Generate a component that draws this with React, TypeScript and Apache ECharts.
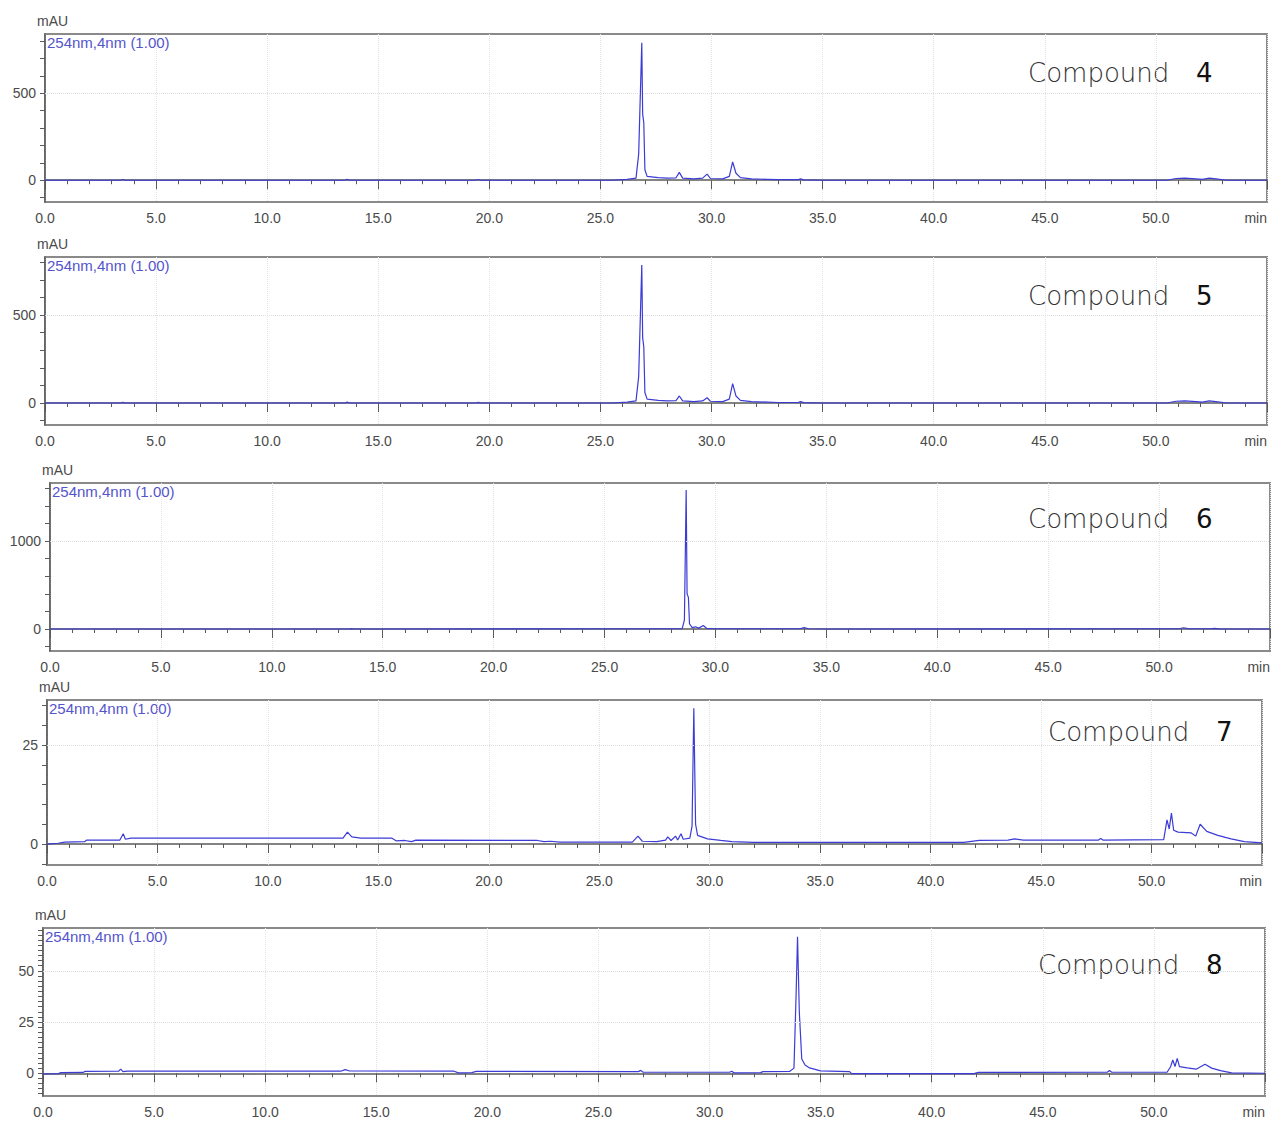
import React, { useEffect, useRef } from "react";
import * as echarts from "echarts";

// Retention time (min) / absorbance (mAU) pairs for each compound's trace
const compound4: [number, number][] = [
  [0, 0], [3.4, 0], [3.5, 4], [3.6, 0], [13.5, 0], [13.6, 5], [13.7, 0], [19.4, 0], [19.5, 4], [19.6, 0],
  [25.5, 0], [26.2, 5], [26.6, 12], [26.72, 150], [26.86, 790], [26.9, 380], [26.95, 330], [27.0, 60],
  [27.1, 22], [27.6, 15], [28.0, 12], [28.4, 14], [28.55, 45], [28.7, 12], [29.2, 8], [29.6, 12],
  [29.8, 35], [29.95, 10], [30.5, 8], [30.8, 22], [30.95, 105], [31.1, 40], [31.3, 15], [31.8, 8],
  [32.5, 5], [33.0, 3], [33.9, 3], [34.0, 8], [34.15, 2], [35, 0], [50.5, 0], [50.9, 10], [51.3, 12],
  [51.8, 8], [52.1, 5], [52.4, 12], [52.7, 8], [53.2, 0], [55, 0],
];
const compound5: [number, number][] = [
  [0, 0], [3.4, 0], [3.5, 4], [3.6, 0], [13.5, 0], [13.6, 5], [13.7, 0], [19.4, 0], [19.5, 4], [19.6, 0],
  [25.5, 0], [26.2, 5], [26.6, 12], [26.72, 150], [26.86, 784], [26.9, 370], [26.95, 320], [27.0, 60],
  [27.1, 22], [27.6, 15], [28.0, 12], [28.4, 14], [28.55, 40], [28.7, 12], [29.2, 8], [29.6, 12],
  [29.8, 30], [29.95, 10], [30.5, 8], [30.8, 22], [30.95, 110], [31.1, 40], [31.3, 15], [31.8, 8],
  [32.5, 5], [33.0, 3], [33.9, 3], [34.0, 8], [34.15, 2], [35, 0], [50.5, 0], [50.9, 10], [51.3, 12],
  [51.8, 8], [52.1, 5], [52.4, 12], [52.7, 8], [53.2, 0], [55, 0],
];
const compound6: [number, number][] = [
  [0, 0], [13.5, 0], [13.6, 4], [13.7, 0], [28.5, 5], [28.6, 100], [28.68, 1580], [28.72, 400],
  [28.78, 360], [28.83, 60], [28.95, 15], [29.1, 25], [29.25, 10], [29.45, 40], [29.6, 8], [30.0, 3],
  [33.8, 3], [34.0, 15], [34.2, 3], [35, 0], [50.9, 3], [51.1, 14], [51.3, 4], [52.3, 3], [52.5, 8],
  [52.7, 2], [53.2, 0], [55, 0],
];
const compound7: [number, number][] = [
  [0, 0], [0.5, 0.2], [0.8, 0.5], [1.7, 0.6], [1.8, 1.0], [3.3, 1.0], [3.45, 2.6], [3.55, 1.2],
  [3.8, 1.5], [13.4, 1.5], [13.6, 3.0], [13.8, 1.8], [14.2, 1.5], [15.6, 1.5], [15.8, 0.8], [16.2, 0.9],
  [16.5, 0.6], [16.7, 1.0], [22.2, 0.9], [22.5, 0.6], [22.8, 0.7], [23.2, 0.5], [26.5, 0.5],
  [26.75, 2.0], [26.95, 0.7], [27.6, 0.6], [28.0, 1.0], [28.1, 1.8], [28.25, 0.9], [28.45, 2.0],
  [28.55, 1.0], [28.7, 2.6], [28.8, 1.2], [29.1, 1.5], [29.2, 4.5], [29.28, 34.3], [29.36, 5],
  [29.45, 2.2], [29.9, 1.3], [30.5, 0.9], [31, 0.6], [32, 0.4], [41.5, 0.4], [42.2, 0.9], [43.5, 1.0],
  [43.8, 1.3], [44.2, 1.0], [47.6, 1.0], [47.7, 1.4], [47.8, 1.0], [50.55, 1.1], [50.7, 6.1],
  [50.8, 3.8], [50.9, 7.8], [51.0, 3.5], [51.2, 3.0], [51.8, 2.8], [52.0, 2.0], [52.2, 5.0],
  [52.5, 3.2], [53.0, 2.2], [53.6, 1.3], [54.2, 0.6], [55, 0.3],
];
const compound8: [number, number][] = [
  [0, -0.3], [0.7, -0.2], [0.8, 0.3], [1.8, 0.4], [1.9, 0.9], [3.4, 1.0], [3.5, 2.0], [3.6, 0.8],
  [3.8, 1.0], [13.4, 1.0], [13.6, 1.8], [13.8, 1.1], [18.5, 1.0], [18.7, 0.2], [19.3, 0.3], [19.5, 0.9],
  [26.8, 0.8], [26.9, 1.4], [27.0, 0.6], [30.9, 0.5], [31.0, 1.0], [31.1, 0.2], [32.3, 0.3],
  [32.4, 0.8], [33.6, 0.9], [33.8, 2.5], [33.9, 40], [33.96, 66.6], [34.04, 30], [34.15, 7],
  [34.3, 4], [34.5, 2.6], [35.0, 1.2], [36.3, 0.8], [36.4, -0.2], [41.9, -0.2], [42.1, 0.4],
  [47.9, 0.5], [48.0, 1.3], [48.1, 0.5], [50.6, 0.6], [50.75, 3.2], [50.85, 6.5], [50.95, 3.3],
  [51.05, 7.3], [51.15, 3.2], [51.5, 2.6], [51.9, 2.0], [52.3, 4.4], [52.6, 2.5], [53.0, 1.3],
  [53.5, 0.2], [55, 0],
];

const traces = [compound4, compound5, compound6, compound7, compound8];
const compoundNumbers = ["4", "5", "6", "7", "8"];
const detectorLabel = "254nm,4nm (1.00)";
const timeUnit = "min";

// Time axis
const timeMin = 0;
const timeMax = 55;
const timeStep = 5;

// Absorbance axis extents, labelled values and tick spacing per panel
const yMins = [-125, -125, -250, -5.3, -11.1];
const yMaxs = [840, 830, 1660, 36.4, 70.9];
const yLabels = [[0, 500], [0, 500], [0, 1000], [0, 25], [0, 25, 50]];
const yTickSteps = [100, 100, 200, 5, 2.5];

// Panel placement in pixels
const panels = [
  { left: 45, top: 34, width: 1222, height: 168 },
  { left: 45, top: 257, width: 1222, height: 168 },
  { left: 50, top: 483, width: 1220, height: 168 },
  { left: 47, top: 700, width: 1215, height: 165 },
  { left: 43, top: 928, width: 1222, height: 168 },
];
const titleSpots = [
  [1028, 73], [1028, 296], [1028, 519], [1048, 732], [1038, 965],
];

const LINE = "#3b3bd6";
const AXIS = "#5a5a5a";
const LABEL = "#4a4a4a";
const FONT = "'Liberation Sans', Arial, sans-serif";

function tickValues(min: number, max: number, step: number): number[] {
  const out: number[] = [];
  const start = Math.ceil(min / step) * step;
  for (let v = start; v <= max + 1e-9; v += step) out.push(+v.toFixed(4));
  return out;
}

export default function App() {
  const ref = useRef<HTMLDivElement>(null);

  useEffect(() => {
    document.body.style.margin = "0";
    if (!ref.current) return;
    const chart = echarts.init(ref.current, null, { renderer: "svg" });

    const grid = panels.map((p) => ({
      left: p.left,
      top: p.top,
      width: p.width,
      height: p.height,
      show: true,
      borderColor: "#8a8a8a",
      borderWidth: 2,
      backgroundColor: "#fff",
    }));

    const xAxis = panels.map((_, i) => ({
      type: "value",
      gridIndex: i,
      min: timeMin,
      max: timeMax,
      interval: timeStep,
      axisLine: { show: true, lineStyle: { color: AXIS, width: 1.5 } },
      axisTick: { show: true, length: 9, lineStyle: { color: AXIS } },
      minorTick: { show: true, splitNumber: 5, length: 4, lineStyle: { color: AXIS } },
      splitLine: { show: true, lineStyle: { color: "#e2e2e2", type: "dotted" } },
      axisLabel: {
        margin: 9,
        color: LABEL,
        fontSize: 14,
        fontFamily: FONT,
        formatter: (v: number) => (v >= timeMax ? "" : v.toFixed(1)),
      },
    }));

    const yAxis = panels.map((_, i) => ({
      type: "value",
      gridIndex: i,
      min: yMins[i],
      max: yMaxs[i],
      name: "mAU",
      nameLocation: "end",
      nameGap: 6,
      nameTextStyle: {
        align: "left",
        padding: [0, 0, 0, -8],
        color: LABEL,
        fontSize: 14,
        fontFamily: FONT,
      },
      axisLine: { show: true, lineStyle: { color: AXIS, width: 1.5 } },
      axisTick: {
        show: true,
        length: 5,
        customValues: tickValues(yMins[i], yMaxs[i], yTickSteps[i]),
        lineStyle: { color: AXIS },
      },
      splitLine: { show: false },
      axisLabel: {
        margin: 9,
        color: LABEL,
        fontSize: 14,
        fontFamily: FONT,
        customValues: yLabels[i],
        formatter: (v: number) => String(v),
      },
    }));

    const series = traces.map((data, i) => ({
      type: "line",
      xAxisIndex: i,
      yAxisIndex: i,
      data,
      showSymbol: false,
      symbol: "none",
      lineStyle: { color: LINE, width: 1.2 },
      markLine: {
        silent: true,
        symbol: ["none", "none"],
        label: { show: false },
        lineStyle: { color: "#dcdcdc", type: "dotted", width: 1 },
        data: yLabels[i].filter((v) => v !== 0).map((v) => ({ yAxis: v })),
      },
    }));

    const graphic: any[] = [];
    panels.forEach((p, i) => {
      graphic.push({
        type: "text",
        x: p.left + 2,
        y: p.top + 1,
        style: {
          text: detectorLabel,
          fill: "#5454cc",
          fontSize: 15,
          fontFamily: FONT,
          align: "left",
          verticalAlign: "top",
        },
      });
      // time unit at the right end of each time axis
      graphic.push({
        type: "text",
        x: p.left + p.width,
        y: p.top + p.height + 9,
        style: {
          text: timeUnit,
          fill: LABEL,
          fontSize: 14,
          fontFamily: FONT,
          align: "right",
          verticalAlign: "top",
        },
      });
      const [tx, ty] = titleSpots[i];
      graphic.push({
        type: "text",
        x: tx,
        y: ty,
        style: {
          text: "Compound",
          fill: "#333",
          fontSize: 26,
          fontWeight: 300,
          fontFamily: "'DejaVu Sans', sans-serif",
          align: "left",
          verticalAlign: "middle",
        },
      });
      graphic.push({
        type: "text",
        x: tx + 168,
        y: ty,
        style: {
          text: compoundNumbers[i],
          fill: "#111",
          fontSize: 26,
          fontFamily: "'DejaVu Sans', sans-serif",
          align: "left",
          verticalAlign: "middle",
        },
      });
    });

    chart.setOption({
      animation: false,
      backgroundColor: "#fff",
      grid,
      xAxis,
      yAxis,
      series,
      graphic,
    });

    return () => chart.dispose();
  }, []);

  return <div ref={ref} style={{ width: 1273, height: 1129 }} />;
}
